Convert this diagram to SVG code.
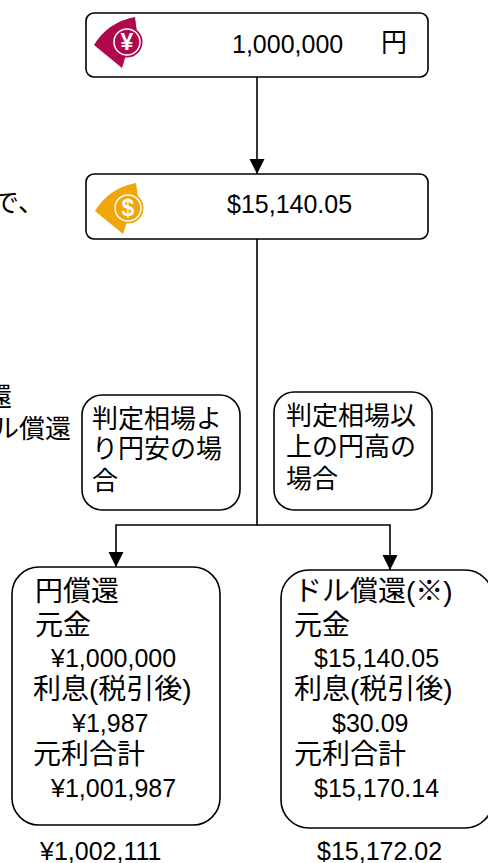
<svg xmlns="http://www.w3.org/2000/svg" width="488" height="863" viewBox="0 0 488 863">
<style>
.box{fill:#fff;stroke:#000;stroke-width:1.6}
.t{font-family:"Liberation Sans","Noto Sans CJK JP",sans-serif;fill:#000}
.n{font-size:25px}
.j{font-size:28px}
.c{font-size:26px}
.conn{fill:none;stroke:#000;stroke-width:1.6}
.ico{font-family:"Liberation Sans",sans-serif;font-weight:bold;fill:#fff;text-anchor:middle}
</style>
<defs>
<marker id="arr" markerUnits="userSpaceOnUse" markerWidth="16" markerHeight="16" refX="15" refY="7.5" orient="auto">
<path d="M0,0 L15,7.5 L0,15 Z" fill="#000"/>
</marker>
<path id="wedge" d="M-33,3 Q-19,-20 8,-25 L10,-10 L0,10 L-5,26 Z"/>
</defs>
<rect width="488" height="863" fill="#fff"/>

<g id="side-notes">
<text class="t c" x="44" y="212" text-anchor="end">で、</text>
<text class="t c" x="12" y="406" text-anchor="end">還</text>
<text class="t c" x="71" y="438" text-anchor="end">ル償還</text>
</g>

<g id="connectors">
<path class="conn" d="M257,77 V174" marker-end="url(#arr)"/>
<path class="conn" d="M257,239 V525 H116 V567" marker-end="url(#arr)"/>
<path class="conn" d="M257,525 H390 V570" marker-end="url(#arr)"/>
</g>

<g id="yen-amount">
<rect class="box" x="86" y="13" width="342" height="64" rx="8"/>
<use href="#wedge" transform="translate(127,42)" fill="#B0084C"/>
<circle cx="127" cy="42" r="15.5" fill="#B0084C"/>
<circle cx="127" cy="42" r="13" fill="none" stroke="#fff" stroke-width="1.5"/>
<text class="ico" x="127" y="50" font-size="23">¥</text>
<text class="t n" x="232" y="53">1,000,000</text>
<text class="t c" x="381" y="52">円</text>
</g>

<g id="dollar-amount">
<rect class="box" x="86" y="174" width="342" height="65" rx="8"/>
<use href="#wedge" transform="translate(128,208)" fill="#EFA60B"/>
<circle cx="128" cy="208" r="15.5" fill="#EFA60B"/>
<circle cx="128" cy="208" r="13" fill="none" stroke="#fff" stroke-width="1.5"/>
<text class="ico" x="128" y="216" font-size="23">$</text>
<text class="t n" x="227" y="213">$15,140.05</text>
</g>

<g id="cond-yen-weak">
<rect class="box" x="82" y="395" width="158" height="115" rx="20"/>
<text class="t c" x="92" y="428">判定相場よ</text>
<text class="t c" x="92" y="458">り円安の場</text>
<text class="t c" x="92" y="490">合</text>
</g>

<g id="cond-yen-strong">
<rect class="box" x="274" y="392" width="158" height="118" rx="20"/>
<text class="t c" x="286" y="425">判定相場以</text>
<text class="t c" x="286" y="456">上の円高の</text>
<text class="t c" x="286" y="488">場合</text>
</g>

<g id="yen-redemption">
<rect class="box" x="12" y="567" width="208" height="258" rx="27"/>
<text class="t j" x="35" y="601">円償還</text>
<text class="t j" x="35" y="635">元金</text>
<text class="t n" x="51" y="667">¥1,000,000</text>
<text class="t j" x="33" y="699">利息(税引後)</text>
<text class="t n" x="72" y="732">¥1,987</text>
<text class="t j" x="33" y="764">元利合計</text>
<text class="t n" x="51" y="797">¥1,001,987</text>
</g>

<g id="dollar-redemption">
<rect class="box" x="281" y="570" width="212" height="258" rx="28"/>
<text class="t j" x="294" y="601">ドル償還(※)</text>
<text class="t j" x="294" y="635">元金</text>
<text class="t n" x="314" y="667">$15,140.05</text>
<text class="t j" x="294" y="699">利息(税引後)</text>
<text class="t n" x="332" y="732">$30.09</text>
<text class="t j" x="294" y="764">元利合計</text>
<text class="t n" x="314" y="797">$15,170.14</text>
</g>

<g id="bottom-values">
<text class="t n" x="40" y="860">¥1,002,111</text>
<text class="t n" x="317" y="860">$15,172.02</text>
</g>
</svg>
